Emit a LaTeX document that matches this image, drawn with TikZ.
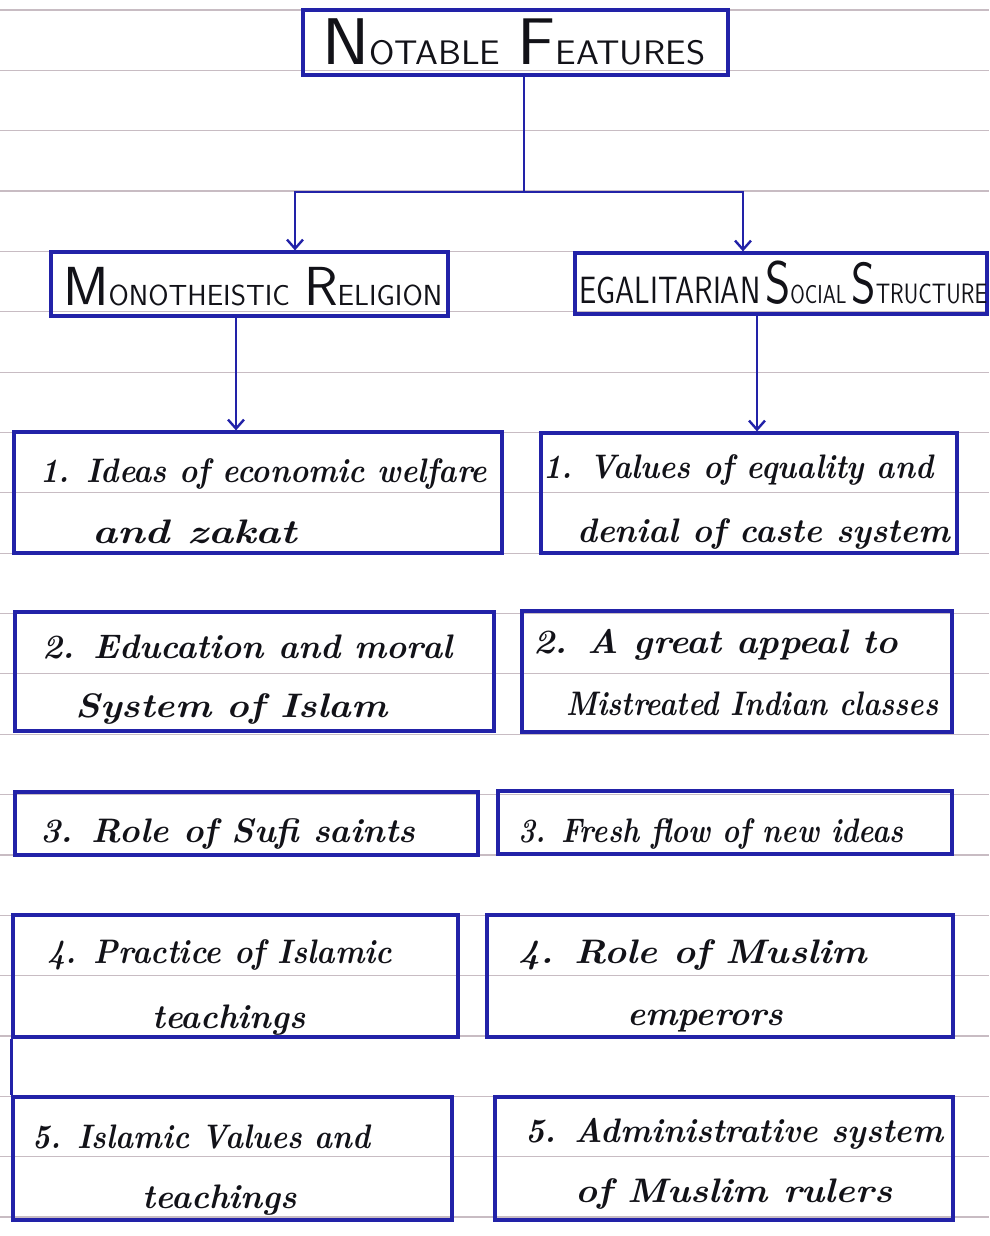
\documentclass[tikz,border=0pt]{standalone}
\usetikzlibrary{fit,arrows.meta}
\definecolor{boxblue}{RGB}{34,34,168}
\definecolor{ink}{RGB}{18,18,24}
\definecolor{ruleclr}{RGB}{200,188,195}
\newcommand\fitw[2]{\resizebox{#1}{\height}{#2}}
\newcommand\fs[1]{\fontsize{#1}{#1}\selectfont}
\tikzset{
  bx/.style={draw=boxblue, line width=3.2pt, inner sep=0pt, rectangle},
  bxline/.style={draw=boxblue, line width=3.2pt},
  conn/.style={draw=boxblue, line width=2.4pt},
  arr/.style={conn, -{Straight Barb[length=9pt,width=16pt,line width=2.4pt]}},
  txt/.style={inner sep=0pt, anchor=base west, text=ink, font=\fs{34}\bfseries\itshape},
  head/.style={inner sep=0pt, anchor=base west, text=ink, font=\sffamily},
  ruled/.style={draw=ruleclr, line width=1.2pt}
}
\begin{document}
\begin{tikzpicture}[x=1pt,y=-1pt]
\useasboundingbox[fill=white] (0,0) rectangle (989,1236);
% ruled notebook lines
\foreach \k in {0,...,20} \draw[ruled] (0,{10+60.35*\k}) -- (989,{10+60.35*\k});

% boxes
\node[bx, fit={(303,10) (728,75)}] (title) {};
\node[bx, fit={(51,252) (448,316)}] (mono) {};
\node[bx, fit={(575,253) (987,314)}] (egal) {};
\node[bx, fit={(14,432) (502,553)}] (L1) {};
\node[bx, fit={(15,612) (494,731)}] (L2) {};
\node[bx, fit={(15,792) (478,855)}] (L3) {};
\node[bx, fit={(13,915) (458,1037)}] (L4) {};
\node[bx, fit={(13,1097) (452,1220)}] (L5) {};
\node[bx, fit={(541,433) (957,553)}] (R1) {};
\node[bx, fit={(522,611) (952,732)}] (R2) {};
\node[bx, fit={(498,791) (952,854)}] (R3) {};
\node[bx, fit={(487,915) (953,1037)}] (R4) {};
\node[bx, fit={(495,1097) (953,1220)}] (R5) {};

% connectors
\coordinate (jn) at (524,192);
\coordinate (bl) at (295,192);
\coordinate (br) at (743,192);
\coordinate (ml) at (236,300);
\coordinate (er) at (757,300);
\draw[conn] (jn |- title.south) -- (jn);
\draw[arr] (jn) -- (bl) -- (bl |- mono.north);
\draw[arr] (jn) -- (br) -- (br |- egal.north);
\draw[arr] (ml |- mono.south) -- (ml |- L1.north);
\draw[arr] (er |- egal.south) -- (er |- R1.north);
\draw[bxline] (L4.south west) -- (L5.north west);

% headings
\node[head] (ttxt) at (322,65) {\fitw{383pt}{{\fs{66}N}{\fs{34}OTABLE}\hspace{16pt}{\fs{66}F}{\fs{34}EATURES}}};
\node[head] (mtxt) at (63,305) {\fitw{379pt}{{\fs{55}M}{\fs{29}ONOTHEISTIC}\hspace{14pt}{\fs{55}R}{\fs{29}ELIGION}}};
\node[head] (etxt) at (579,303) {\fitw{408pt}{{\fs{38}EGALITARIAN}\hspace{6pt}{\fs{60}S}{\fs{26}OCIAL}\hspace{6pt}{\fs{58}S}{\fs{28}TRUCTURE}}};

% left items
\node[txt] (l1a) at (40,482) {\fitw{447pt}{1. Ideas of economic welfare}};
\node[txt] (l1b) at (92,543) {\fitw{205pt}{and zakat}};
\node[txt] (l2a) at (42,658) {\fitw{410pt}{2. Education and moral}};
\node[txt] (l2b) at (75,717) {\fitw{312pt}{System of Islam}};
\node[txt] (l3a) at (40,842) {\fitw{375pt}{3. Role of Sufi saints}};
\node[txt] (l4a) at (47,963) {\fitw{345pt}{4. Practice of Islamic}};
\node[txt] (l4b) at (152,1028) {\fitw{153pt}{teachings}};
\node[txt] (l5a) at (32,1148) {\fitw{338pt}{5. Islamic Values and}};
\node[txt] (l5b) at (142,1208) {\fitw{155pt}{teachings}};

% right items
\node[txt] (r1a) at (543,478) {\fitw{390pt}{1. Values of equality and}};
\node[txt] (r1b) at (577,542) {\fitw{373pt}{denial of caste system}};
\node[txt] (r2a) at (533,653) {\fitw{365pt}{2. A great appeal to}};
\node[txt] (r2b) at (566,715) {\fitw{372pt}{Mistreated Indian classes}};
\node[txt] (r3a) at (518,842) {\fitw{385pt}{3. Fresh flow of new ideas}};
\node[txt] (r4a) at (518,963) {\fitw{349pt}{4. Role of Muslim}};
\node[txt] (r4b) at (627,1025) {\fitw{156pt}{emperors}};
\node[txt] (r5a) at (525,1142) {\fitw{418pt}{5. Administrative system}};
\node[txt] (r5b) at (575,1202) {\fitw{317pt}{of Muslim rulers}};
\end{tikzpicture}
\end{document}
